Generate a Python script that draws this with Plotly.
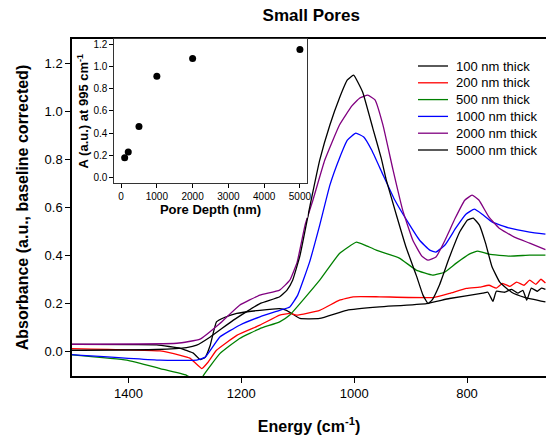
import plotly.graph_objects as go

# spectra (energy in cm-1, absorbance)
energy_100 = [1500, 1350, 1308, 1285, 1273, 1264, 1255, 1244, 1229, 1208, 1167, 1132, 1120, 1096, 1061, 1013, 955, 872,
              831, 772, 763, 754, 748, 733, 721, 710, 701, 694, 686, 675, 668, 661]
abs_100 = [0.031, 0.029, 0.015, -0.005, -0.032, -0.022, 0.028, 0.125, 0.144, 0.160, 0.173, 0.180, 0.173, 0.139, 0.139,
           0.173, 0.187, 0.201, 0.222, 0.244, 0.248, 0.210, 0.252, 0.248, 0.260, 0.244, 0.256, 0.215, 0.265, 0.252,
           0.265, 0.260]

energy_200 = [1500, 1344, 1308, 1291, 1270, 1259, 1244, 1208, 1167, 1132, 1114, 1102, 1061, 1026, 1002, 955, 860, 831,
              801, 778, 761, 748, 737, 724, 712, 699, 689, 678, 669, 661]
abs_200 = [0.014, 0.004, -0.014, -0.026, -0.069, -0.043, 0.007, 0.069, 0.111, 0.153, 0.160, 0.153, 0.173, 0.215, 0.229,
           0.229, 0.226, 0.243, 0.264, 0.269, 0.277, 0.265, 0.285, 0.272, 0.290, 0.277, 0.298, 0.281, 0.302, 0.286]

energy_500 = [1500, 1403, 1344, 1297, 1282, 1273, 1267, 1238, 1203, 1167, 1132, 1114, 1061, 1026, 996, 981, 961, 920,
              890, 861, 840, 819, 796, 781, 761, 724, 689, 661]
abs_500 = [-0.012, -0.034, -0.069, -0.097, -0.118, -0.122, -0.097, -0.007, 0.056, 0.097, 0.125, 0.153, 0.298, 0.409,
           0.456, 0.444, 0.423, 0.390, 0.340, 0.319, 0.331, 0.369, 0.406, 0.419, 0.406, 0.398, 0.402, 0.402]

energy_1000 = [1500, 1344, 1279, 1264, 1238, 1203, 1167, 1132, 1114, 1100, 1079, 1061, 1043, 1026, 1012, 997, 983, 969,
               951, 928, 905, 884, 866, 855, 839, 820, 802, 787, 773, 755, 724, 689, 661]
abs_1000 = [-0.011, -0.034, -0.034, -0.022, 0.062, 0.111, 0.146, 0.173, 0.187, 0.236, 0.373, 0.527, 0.693, 0.805, 0.880,
            0.909, 0.893, 0.839, 0.747, 0.631, 0.540, 0.464, 0.423, 0.415, 0.444, 0.514, 0.572, 0.593, 0.572, 0.539,
            0.514, 0.498, 0.489]

energy_2000 = [1500, 1314, 1273, 1238, 1203, 1167, 1132, 1114, 1101, 1087, 1073, 1052, 1026, 1004, 990, 976, 963, 949,
               931, 914, 896, 880, 869, 855, 839, 821, 804, 791, 779, 761, 743, 716, 689, 661]
abs_2000 = [0.032, 0.036, 0.053, 0.118, 0.194, 0.236, 0.257, 0.298, 0.373, 0.527, 0.631, 0.797, 0.943, 1.022, 1.055,
            1.067, 1.047, 0.943, 0.755, 0.589, 0.464, 0.398, 0.381, 0.394, 0.464, 0.555, 0.630, 0.651, 0.631, 0.560,
            0.514, 0.477, 0.452, 0.425]

energy_5000 = [1500, 1350, 1297, 1279, 1255, 1214, 1167, 1132, 1119, 1109, 1096, 1078, 1061, 1043, 1026, 1012, 1001,
               985, 967, 952, 943, 925, 908, 890, 878, 869, 862, 849, 831, 813, 799, 789, 778, 767, 756, 742, 721,
               698, 661]
abs_5000 = [0.007, 0.010, 0.018, 0.028, 0.062, 0.132, 0.201, 0.229, 0.257, 0.298, 0.400, 0.610, 0.797, 0.943, 1.055,
            1.130, 1.150, 1.080, 0.930, 0.805, 0.714, 0.568, 0.435, 0.319, 0.236, 0.201, 0.215, 0.277, 0.394, 0.498,
            0.548, 0.556, 0.527, 0.451, 0.356, 0.290, 0.248, 0.227, 0.208]

# inset: absorbance at 995 cm-1 vs pore depth
pore_depth = [100, 200, 500, 1000, 2000, 5000]
a_995 = [0.18, 0.23, 0.46, 0.91, 1.07, 1.15]

series = [
    ("100 nm thick", energy_100, abs_100, "#000000"),
    ("200 nm thick", energy_200, abs_200, "#ff0000"),
    ("500 nm thick", energy_500, abs_500, "#008000"),
    ("1000 nm thick", energy_1000, abs_1000, "#0000ff"),
    ("2000 nm thick", energy_2000, abs_2000, "#800080"),
    ("5000 nm thick", energy_5000, abs_5000, "#000000"),
]

FONT = "Liberation Sans, Arial, sans-serif"
W, H = 546, 441
L, R, T, B = 72, 0, 39, 65
pw, ph = W - L - R, H - T - B


def px(x):
    return (x - L) / pw


def py(y):
    return (H - B - y) / ph


fig = go.Figure()
for name, x, y, color in series:
    fig.add_trace(go.Scatter(x=x, y=y, name=name, mode="lines", showlegend=False,
                             line=dict(color=color, width=1.3, shape="spline", smoothing=0.35),
                             xaxis="x", yaxis="y"))

# empty subplot whose white background hides the spectra behind the inset
fig.add_trace(go.Scatter(x=[], y=[], xaxis="x2", yaxis="y2", showlegend=False))

fig.add_trace(go.Scatter(x=pore_depth, y=a_995, mode="markers", showlegend=False,
                         marker=dict(color="black", size=7), xaxis="x3", yaxis="y3"))

# legend drawn by hand to get the tight row spacing of the original
for i, (name, _, _, color) in enumerate(series):
    row = 66 + 16.8 * i
    fig.add_shape(type="line", xref="paper", yref="paper", x0=px(418), x1=px(448), y0=py(row), y1=py(row),
                  line=dict(color=color, width=1.3))
    fig.add_annotation(text=name, xref="paper", yref="paper", x=px(454), y=py(row), xanchor="left",
                       yanchor="middle", showarrow=False, font=dict(size=13))

fig.update_layout(
    width=W, height=H,
    margin=dict(l=L, r=R, t=T, b=B, autoexpand=False),
    paper_bgcolor="white", plot_bgcolor="white",
    font=dict(family=FONT, color="black", size=13),
    title=dict(text="<b>Small Pores</b>", x=0.57, xanchor="center", y=0.966, yanchor="middle",
               font=dict(size=17)),
    showlegend=False,
    xaxis=dict(range=[1500, 660], tickvals=[1400, 1200, 1000, 800], ticks="outside", ticklen=5,
               tickcolor="black", showline=True, linecolor="black", linewidth=1.5, mirror=True,
               showgrid=False, zeroline=False, tickfont=dict(size=13), automargin=False,
               title=dict(text="<b>Energy (cm<sup>-1</sup>)</b>", font=dict(size=16), standoff=20)),
    yaxis=dict(range=[-0.1, 1.3], tickvals=[0, 0.2, 0.4, 0.6, 0.8, 1.0, 1.2], tickformat=".1f",
               ticks="outside", ticklen=5, tickcolor="black", showline=True, linecolor="black",
               linewidth=1.5, showgrid=False, zeroline=False, tickfont=dict(size=13), automargin=False,
               title=dict(text="<b>Absorbance (a.u., baseline corrected)</b>", font=dict(size=16),
                          standoff=12)),
    xaxis2=dict(domain=[0.0, 0.497], anchor="y2", visible=False, range=[0, 1]),
    yaxis2=dict(domain=[0.47, 1.0], anchor="x2", visible=False, range=[0, 1]),
    xaxis3=dict(domain=[px(114.3), px(306.7)], anchor="y3", range=[-190, 5190],
                tickvals=[0, 1000, 2000, 3000, 4000, 5000], ticks="outside", ticklen=4,
                tickcolor="black", showline=True, linecolor="#333333", linewidth=1, mirror=True,
                showgrid=False, zeroline=False, tickfont=dict(size=10), automargin=False,
                title=dict(text="<b>Pore Depth (nm)</b>", font=dict(size=13), standoff=3)),
    yaxis3=dict(domain=[py(183.3), 1.0], anchor="x3", range=[-0.05, 1.245],
                tickvals=[0, 0.2, 0.4, 0.6, 0.8, 1.0, 1.2], tickformat=".1f", ticks="outside",
                ticklen=4, tickcolor="black", showline=True, linecolor="#333333", linewidth=1,
                mirror=True, showgrid=False, zeroline=False, tickfont=dict(size=10), automargin=False,
                title=dict(text="<b>A (a.u.) at 995 cm<sup>-1</sup></b>", font=dict(size=13),
                           standoff=1)),
)

# the page body has a default 8px margin; drop it so the figure sits at the window origin
fig.write_html("out.html", config={"displayModeBar": False},
               post_script="document.body.style.margin='0';")
